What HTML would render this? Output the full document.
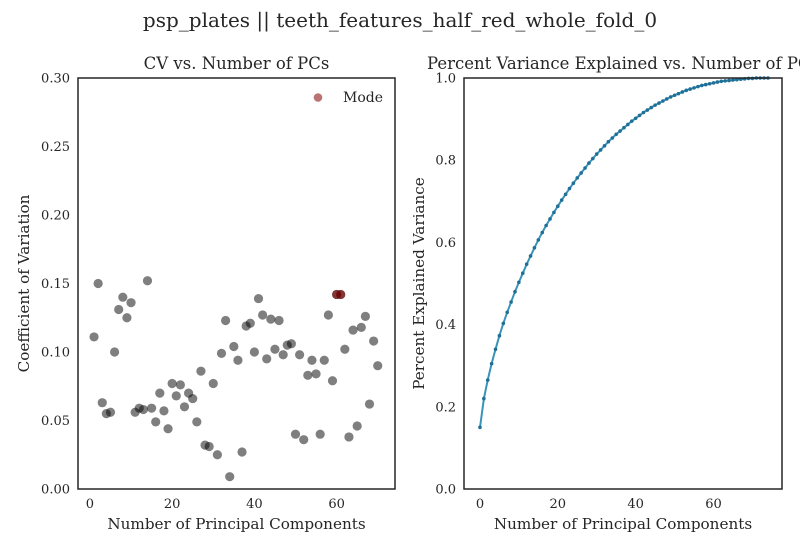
<!DOCTYPE html>
<html><head><meta charset="utf-8"><style>
body{margin:0;background:#fff;overflow:hidden;}
svg text{font-family:"DejaVu Serif","Liberation Serif",serif;fill:#262626;}
</style></head><body>
<svg id="c" width="800" height="550" xmlns="http://www.w3.org/2000/svg">
<text x="400" y="27" font-size="20" text-anchor="middle">psp_plates || teeth_features_half_red_whole_fold_0</text>
<g id="left"></g>
<g id="right"></g>
</svg>
<script>
const cvX = [];
for (let i = 1; i <= 70; i++) cvX.push(i);
const cvValues = [0.111,0.150,0.063,0.055,0.056,0.100,0.131,0.140,0.125,0.136,0.056,0.059,0.058,0.152,0.059,0.049,0.070,0.057,0.044,0.077,0.068,0.076,0.060,0.070,0.066,0.049,0.086,0.032,0.031,0.077,0.025,0.099,0.123,0.009,0.104,0.094,0.027,0.119,0.121,0.100,0.139,0.127,0.095,0.124,0.102,0.123,0.098,0.105,0.106,0.040,0.098,0.036,0.083,0.094,0.084,0.040,0.094,0.127,0.079,0.142,0.142,0.102,0.038,0.116,0.046,0.118,0.126,0.062,0.108,0.090];
const modeX = [60, 61];
const modeValues = [0.142, 0.142];
const cvYTicks = [0.00,0.05,0.10,0.15,0.20,0.25,0.30];
const cvXTicks = [0,20,40,60];
const pcX = [];
for (let i = 0; i <= 74; i++) pcX.push(i);
const varValues = [0.150,0.220,0.265,0.305,0.340,0.373,0.403,0.430,0.455,0.480,0.503,0.525,0.547,0.567,0.587,0.606,0.624,0.641,0.657,0.673,0.688,0.703,0.717,0.731,0.744,0.757,0.769,0.781,0.793,0.804,0.815,0.825,0.835,0.845,0.854,0.863,0.871,0.879,0.887,0.895,0.902,0.909,0.916,0.922,0.928,0.934,0.939,0.944,0.949,0.954,0.958,0.962,0.966,0.970,0.973,0.976,0.979,0.982,0.984,0.986,0.988,0.990,0.992,0.993,0.994,0.995,0.996,0.997,0.998,0.999,0.999,1.000,1.000,1.000,1.000];
const varYTicks = [0.0,0.2,0.4,0.6,0.8,1.0];
const varXTicks = [0,20,40,60];

const NS="http://www.w3.org/2000/svg";
function mk(parent,tag,attrs,text){const e=document.createElementNS(NS,tag);for(const k in attrs)e.setAttribute(k,attrs[k]);if(text!==undefined)e.textContent=text;parent.appendChild(e);return e;}

function panel(g,box,xmin,xmax,ymin,ymax,xticks,yticks,fmt,title,xl,yl,ylx){
  const sx=v=>box.x+(v-xmin)/(xmax-xmin)*box.w;
  const sy=v=>box.y+box.h-(v-ymin)/(ymax-ymin)*box.h;
  const t=mk(g,'text',{x:box.x+box.w/2,y:box.y-9,'font-size':16.5,'text-anchor':'middle'},title);
  
  
  xticks.forEach(v=>{const e=mk(g,'text',{x:sx(v),y:box.y+box.h+19,'font-size':13,'text-anchor':'middle'},v);
    
    });
  yticks.forEach(v=>{const e=mk(g,'text',{x:box.x-8,y:sy(v)+4.5,'font-size':13,'text-anchor':'end'},fmt(v));
    
    });
  const xa=mk(g,'text',{x:box.x+box.w/2,y:box.y+box.h+40,'font-size':15.2,'text-anchor':'middle'},xl);
  
  
  const cy=box.y+box.h/2, cx=ylx;
  const ya=mk(g,'text',{x:cx,y:cy,'font-size':15.2,'text-anchor':'middle',transform:`rotate(-90 ${cx} ${cy})`},yl);
  
  
  return {sx,sy};
}
function frame(g,box){const r=mk(g,'rect',{x:box.x,y:box.y,width:box.w,height:box.h,fill:'none',stroke:'#262626','stroke-width':1.5});
  
  }

// left
const L=document.getElementById('left');
const lb={x:78,y:78,w:317,h:411};
const ls=panel(L,lb,-2.9,74.2,0,0.30,cvXTicks,cvYTicks,v=>v.toFixed(2),'CV vs. Number of PCs','Number of Principal Components','Coefficient of Variation',29);
cvValues.forEach((v,i)=>{const c=mk(L,'circle',{cx:ls.sx(cvX[i]),cy:ls.sy(v),r:4.6,fill:'#000','fill-opacity':0.5});
  
  });
modeValues.forEach((v,i)=>{const c=mk(L,'circle',{cx:ls.sx(modeX[i]),cy:ls.sy(v),r:4.6,fill:'#800000','fill-opacity':0.55});
  
  });
const lm=mk(L,'circle',{cx:318,cy:97.5,r:4.3,fill:'#800000','fill-opacity':0.55});


const lt=mk(L,'text',{x:343,y:102,'font-size':14},'Mode');


frame(L,lb);

// right
const R=document.getElementById('right');
const rb={x:464,y:78,w:318,h:411};
const rs=panel(R,rb,-4.1,77.6,0,1.0,varXTicks,varYTicks,v=>v.toFixed(1),'Percent Variance Explained vs. Number of PCs','Number of Principal Components','Percent Explained Variance',424);
mk(R,'clipPath',{id:'rc'});
document.getElementById('rc') && mk(document.getElementById('rc'),'rect',{x:rb.x,y:rb.y-10,width:rb.w,height:rb.h+10});
let d='';varValues.forEach((v,i)=>{d+=(i?'L':'M')+rs.sx(pcX[i]).toFixed(1)+','+rs.sy(v).toFixed(1);});
const pl=mk(R,'path',{d,fill:'none',stroke:'#3a94b8','stroke-width':2,'clip-path':'url(#rc)'});


varValues.forEach((v,i)=>{const c=mk(R,'circle',{cx:rs.sx(pcX[i]),cy:rs.sy(v),r:1.8,fill:'#1f6f96','clip-path':'url(#rc)'});
  
  });
frame(R,rb);
</script>
</body></html>
